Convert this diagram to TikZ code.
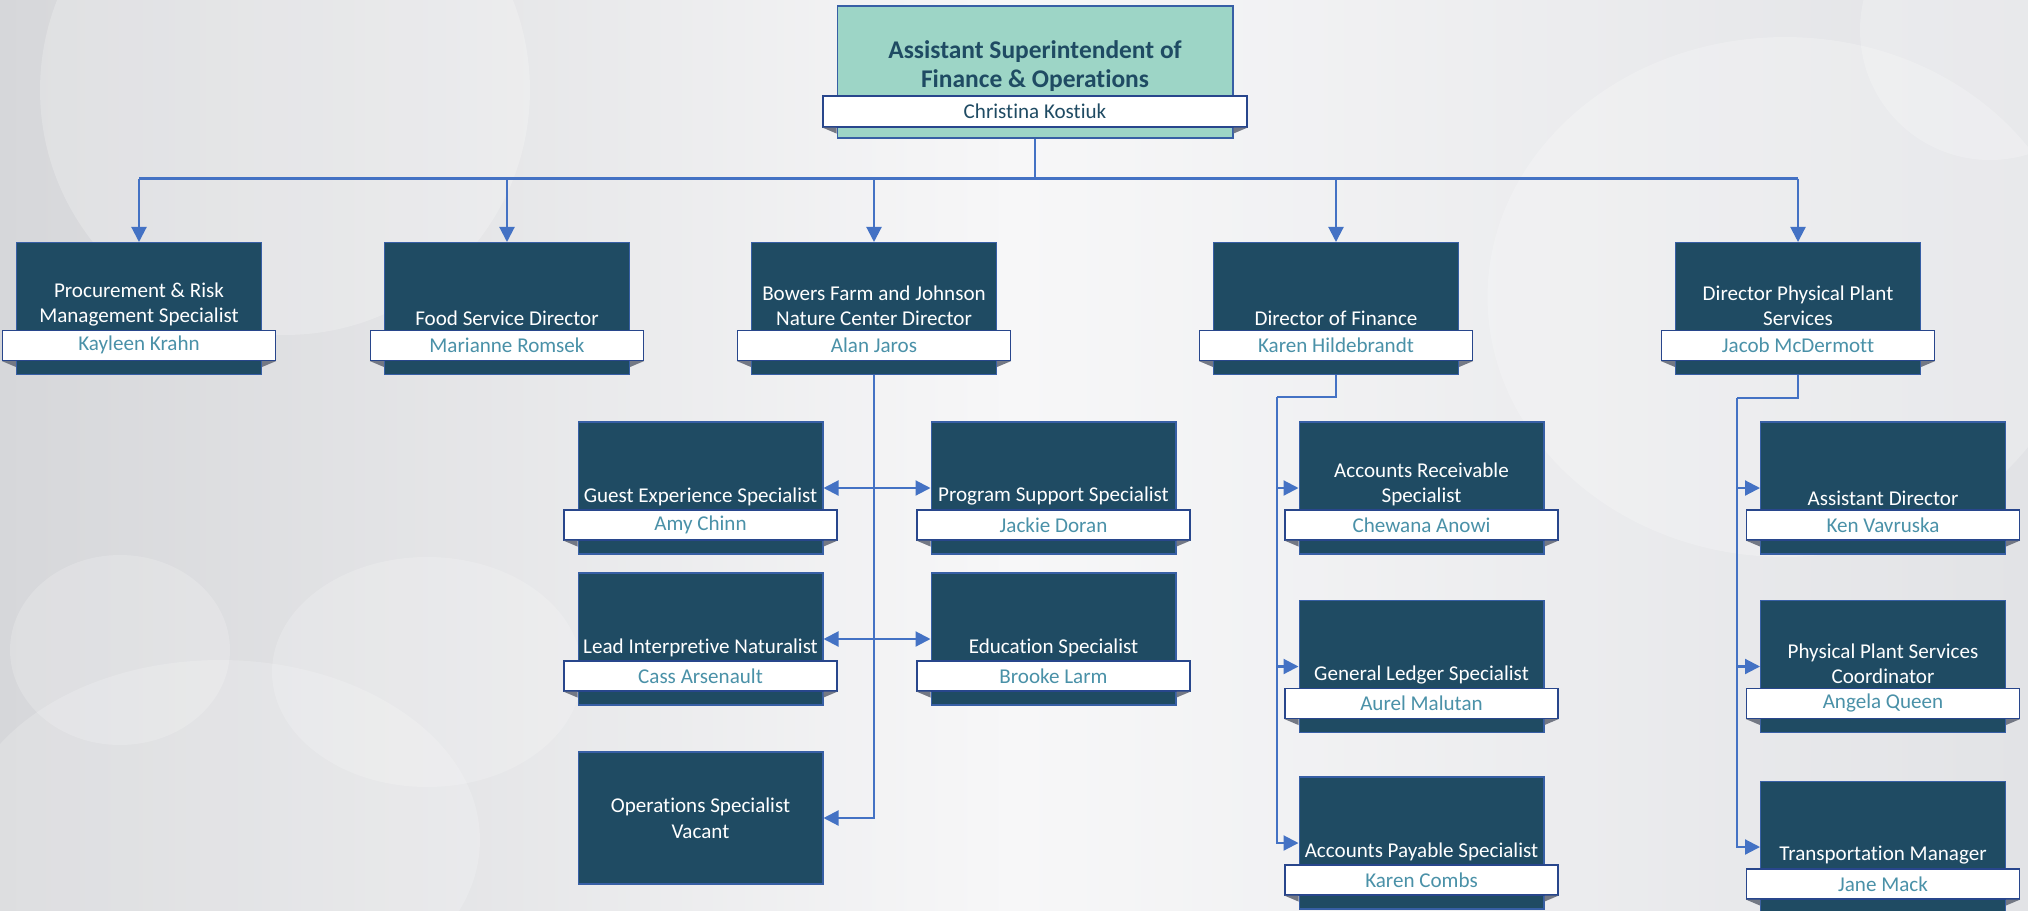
\documentclass[tikz,border=0pt]{standalone}
\usepackage{fontspec}
\setmainfont{Carlito}[Ligatures={NoCommon,NoContextual}]
\usepackage{tikz}
\usetikzlibrary{arrows.meta,calc,positioning}
\usepackage{xcolor}
\definecolor{boxblue}{RGB}{31,75,99}
\definecolor{boxedge}{RGB}{55,95,165}
\definecolor{ribbonedge}{RGB}{40,70,140}
\definecolor{nameteal}{RGB}{74,145,168}
\definecolor{headmint}{RGB}{157,213,198}
\definecolor{linkblue}{RGB}{68,114,196}
\definecolor{foldgray}{RGB}{115,120,132}
\definecolor{bgdark}{RGB}{214,215,218}
\definecolor{bglight}{RGB}{247,247,248}
\definecolor{bgside}{RGB}{226,227,230}

\begin{document}
\begin{tikzpicture}[x=0.02cm,y=-0.02cm,
  posbox/.style={draw=boxedge,line width=0.6pt,fill=boxblue,minimum width=4.9cm,minimum height=2.64cm,inner sep=0pt},
  headbox/.style={posbox,fill=headmint,minimum width=7.92cm},
  ribbon/.style={draw=ribbonedge,line width=0.8pt,fill=white,minimum width=5.46cm,minimum height=0.6cm,inner sep=0pt,text=nameteal,font=\fontsize{12}{14}\selectfont},
  jobtitle/.style={align=center,text=white,inner sep=1.8pt,font=\fontsize{12}{14.3}\selectfont},
  link/.style={draw=linkblue,line width=1.2pt},
  feed/.style={-{Triangle[length=0.3cm,width=0.3cm]}},
  twoway/.style={{Triangle[length=0.3cm,width=0.3cm]}-{Triangle[length=0.3cm,width=0.3cm]}}]

\useasboundingbox (0,0) rectangle (2028,910);

%Background
\begin{scope}
\clip (0,0) rectangle (2028,910);
\shade[left color=bgdark,right color=bgside,middle color=bglight] (0,0) rectangle (2028,910);
\fill[white,opacity=0.22] (285,90) circle[radius=4.9cm];
\fill[white,opacity=0.22] (1785,297) ellipse[x radius=5.95cm,y radius=5.2cm];
\fill[white,opacity=0.22] (1990,30) circle[radius=2.6cm];
\fill[white,opacity=0.18] (220,840) ellipse[x radius=5.2cm,y radius=3.6cm];
\fill[white,opacity=0.18] (120,650) ellipse[x radius=2.2cm,y radius=1.9cm];
\fill[white,opacity=0.18] (427,672) ellipse[x radius=3.1cm,y radius=2.3cm];
\end{scope}

%Assistant Superintendent
\node[headbox] (top) at (1035,72) {};
\node[ribbon,minimum width=8.48cm,minimum height=0.62cm,text=boxblue,above=0.22cm of top.south] (top-n) {Christina Kostiuk};
\node[align=center,text=boxblue,font=\bfseries\fontsize{14.5}{16.5}\selectfont] (top-t) at (1035,66) {Assistant Superintendent of\\Finance \& Operations};

%Procurement
\node[posbox] (proc) at (139,308.5) {};
\node[ribbon,above=0.28cm of proc.south] (proc-n) {Kayleen Krahn};
\node[jobtitle,above=0pt of proc-n] (proc-t) {Procurement \& Risk\\Management Specialist};

%Food service
\node[posbox] (food) at (507,308.5) {};
\node[ribbon,above=0.28cm of food.south] (food-n) {Marianne Romsek};
\node[jobtitle,above=0pt of food-n] (food-t) {Food Service Director};

%Bowers Farm
\node[posbox] (farm) at (874,308.5) {};
\node[ribbon,above=0.28cm of farm.south] (farm-n) {Alan Jaros};
\node[jobtitle,above=0pt of farm-n] (farm-t) {Bowers Farm and Johnson\\Nature Center Director};

%Finance
\node[posbox] (fin) at (1336,308.5) {};
\node[ribbon,above=0.28cm of fin.south] (fin-n) {Karen Hildebrandt};
\node[jobtitle,above=0pt of fin-n] (fin-t) {Director of Finance};

%Physical plant
\node[posbox] (plant) at (1798,308.5) {};
\node[ribbon,above=0.28cm of plant.south] (plant-n) {Jacob McDermott};
\node[jobtitle,above=0pt of plant-n] (plant-t) {Director Physical Plant\\Services};

%Guest experience
\node[posbox] (guest) at (700.5,488) {};
\node[ribbon,above=0.28cm of guest.south] (guest-n) {Amy Chinn};
\node[jobtitle,above=0pt of guest-n] (guest-t) {Guest Experience Specialist};

%Program support
\node[posbox] (prog) at (1053.5,488) {};
\node[ribbon,above=0.28cm of prog.south] (prog-n) {Jackie Doran};
\node[jobtitle,above=0pt of prog-n] (prog-t) {Program Support Specialist};

%Lead naturalist
\node[posbox] (lead) at (700.5,639) {};
\node[ribbon,above=0.28cm of lead.south] (lead-n) {Cass Arsenault};
\node[jobtitle,above=0pt of lead-n] (lead-t) {Lead Interpretive Naturalist};

%Education
\node[posbox] (edu) at (1053.5,639) {};
\node[ribbon,above=0.28cm of edu.south] (edu-n) {Brooke Larm};
\node[jobtitle,above=0pt of edu-n] (edu-t) {Education Specialist};

%Operations (vacant)
\node[posbox,text=white,align=center,font=\fontsize{12}{15}\selectfont] (ops) at (700.5,818) {Operations Specialist\\Vacant};

%Accounts receivable
\node[posbox] (ar) at (1421.5,488) {};
\node[ribbon,above=0.28cm of ar.south] (ar-n) {Chewana Anowi};
\node[jobtitle,above=0pt of ar-n] (ar-t) {Accounts Receivable\\Specialist};

%General ledger
\node[posbox] (gl) at (1421.5,666.5) {};
\node[ribbon,above=0.28cm of gl.south] (gl-n) {Aurel Malutan};
\node[jobtitle,above=0pt of gl-n] (gl-t) {General Ledger Specialist};

%Accounts payable
\node[posbox] (ap) at (1421.5,843) {};
\node[ribbon,above=0.28cm of ap.south] (ap-n) {Karen Combs};
\node[jobtitle,above=0pt of ap-n] (ap-t) {Accounts Payable Specialist};

%Assistant director
\node[posbox] (asst) at (1883,488) {};
\node[ribbon,above=0.28cm of asst.south] (asst-n) {Ken Vavruska};
\node[jobtitle,above=0pt of asst-n] (asst-t) {Assistant Director};

%Plant coordinator
\node[posbox] (coord) at (1883,666.5) {};
\node[ribbon,above=0.28cm of coord.south] (coord-n) {Angela Queen};
\node[jobtitle,above=0pt of coord-n] (coord-t) {Physical Plant Services\\Coordinator};

%Transportation
\node[posbox] (trans) at (1883,847) {};
\node[ribbon,above=0.28cm of trans.south] (trans-n) {Jane Mack};
\node[jobtitle,above=0pt of trans-n] (trans-t) {Transportation Manager};

%Ribbon folds
\foreach \b in {top,proc,food,farm,fin,plant,guest,prog,lead,edu,ar,gl,ap,asst,coord,trans} {
  \fill[foldgray] (\b-n.south west) -- (\b-n.south west -| \b.west) -- ++(0,6) -- cycle;
  \fill[foldgray] (\b-n.south east) -- (\b-n.south east -| \b.east) -- ++(0,6) -- cycle;
}

%Connectors
\draw[link] (top.south) -- ++(0,40) coordinate (bus);
\draw[link] (bus -| proc) -- (bus -| plant);
\foreach \b in {proc,food,farm,fin,plant}
  \draw[link,feed] (bus -| \b) -- (\b.north);

\draw[link,feed] (farm.south) |- (ops.east);
\draw[link,twoway] (guest.east) -- (prog.west);
\draw[link,twoway] (lead.east) -- (edu.west);

\coordinate (finbus) at (1277,397);
\draw[link] (fin.south) |- (finbus);
\foreach \b in {ar,gl,ap}
  \draw[link,feed] (finbus) |- (\b.west);

\coordinate (plantbus) at (1737,398);
\draw[link] (plant.south) |- (plantbus);
\foreach \b in {asst,coord,trans}
  \draw[link,feed] (plantbus) |- (\b.west);
\end{tikzpicture}
\end{document}
